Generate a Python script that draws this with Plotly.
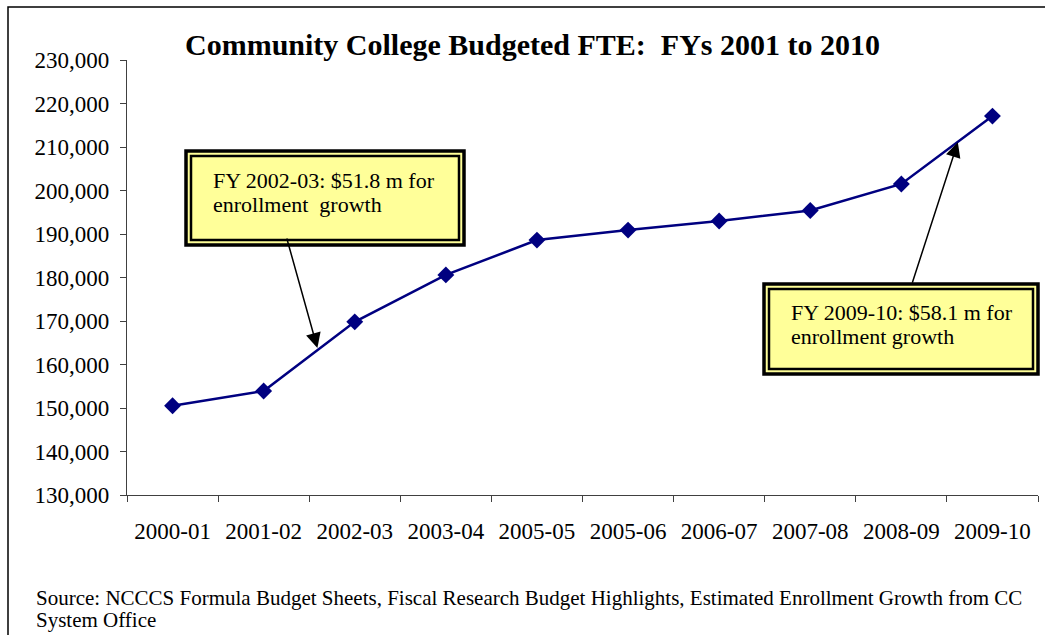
import plotly.graph_objects as go

# Budgeted FTE by fiscal year
fiscal_years = ["2000-01", "2001-02", "2002-03", "2003-04", "2005-05",
                "2005-06", "2006-07", "2007-08", "2008-09", "2009-10"]
fte = [150500, 153900, 169800, 180600, 188600,
       190900, 193000, 195400, 201500, 217100]

y_ticks = [130000, 140000, 150000, 160000, 170000, 180000,
           190000, 200000, 210000, 220000, 230000]

title_text = "Community College Budgeted FTE:  FYs 2001 to 2010"
note_1 = ["FY 2002-03: $51.8 m for", "enrollment  growth"]
note_2 = ["FY 2009-10: $58.1 m for", "enrollment growth"]
source_lines = ["Source: NCCCS Formula Budget Sheets, Fiscal Research Budget Highlights, "
                "Estimated Enrollment Growth from CC",
                "System Office"]

W, H = 1045, 635
ML, MR, MT, MB = 127, 7, 60, 140
PW, PH = W - ML - MR, H - MT - MB

SERIF = "Liberation Serif, Times New Roman, serif"


def px(x):
    return (x - ML) / PW


def py(y):
    return (H - MB - y) / PH


fig = go.Figure()
fig.add_trace(go.Scatter(
    x=fiscal_years, y=fte, mode="lines+markers",
    line=dict(color="#000080", width=2.5),
    marker=dict(symbol="diamond", size=13, color="#000080"),
    cliponaxis=False, showlegend=False,
))

shapes = []
# outer chart frame
shapes.append(dict(type="rect", xref="paper", yref="paper",
                   x0=px(8), x1=px(1080), y0=py(7), y1=py(700),
                   line=dict(color="black", width=1.5), layer="below"))


def callout_box(x0, y0, x1, y1):
    return [
        dict(type="rect", xref="paper", yref="paper",
             x0=px(x0), x1=px(x1), y0=py(y0), y1=py(y1),
             fillcolor="#FFFF99", line=dict(color="black", width=3.5)),
        dict(type="rect", xref="paper", yref="paper",
             x0=px(x0 + 5), x1=px(x1 - 5), y0=py(y0 + 5), y1=py(y1 - 5),
             fillcolor="rgba(0,0,0,0)", line=dict(color="black", width=2.5)),
    ]


shapes += callout_box(186, 151, 464, 245)
shapes += callout_box(764, 284, 1038, 374)


def text_line(text, x, y, size):
    return dict(text=text, xref="paper", yref="paper", x=px(x), y=py(y),
                xanchor="left", yanchor="middle", align="left", showarrow=False,
                font=dict(family=SERIF, size=size, color="black"))


annotations = [
    text_line(note_1[0], 211, 180, 22),
    text_line(note_1[1], 211, 204, 22),
    text_line(note_2[0], 789, 312, 22),
    text_line(note_2[1], 789, 336, 22),
    # arrows pointing at the funded growth years
    dict(x=1.59, y=163800, xref="x", yref="y", ax=-31, ay=-111, text="",
         showarrow=True, arrowhead=2, arrowsize=2, arrowwidth=1.5,
         arrowcolor="black"),
    dict(x=8.62, y=211100, xref="x", yref="y", ax=-46, ay=142, text="",
         showarrow=True, arrowhead=2, arrowsize=2, arrowwidth=1.5,
         arrowcolor="black"),
    text_line(source_lines[0], 34, 598, 21),
    text_line(source_lines[1], 34, 620, 21),
    dict(text="<b>" + title_text + "</b>", xref="paper", yref="paper",
         x=px(532), y=py(44), xanchor="center", yanchor="middle",
         showarrow=False, font=dict(family=SERIF, size=30, color="black")),
]

fig.update_layout(
    width=W, height=H,
    margin=dict(l=ML, r=MR, t=MT, b=MB, autoexpand=False),
    paper_bgcolor="white", plot_bgcolor="white",
    font=dict(family=SERIF, color="black"),
    shapes=shapes, annotations=annotations,
    xaxis=dict(
        type="category", range=[-0.5, 9.5], showgrid=False,
        showline=True, linecolor="#404040", linewidth=1.2,
        ticks="outside", ticklen=6, tickcolor="#404040", tickson="boundaries",
        ticklabelstandoff=15, tickfont=dict(family=SERIF, size=23),
    ),
    yaxis=dict(
        range=[130000, 230000], tickvals=y_ticks, tickformat=",d",
        showgrid=False, zeroline=False,
        showline=True, linecolor="#404040", linewidth=1.2,
        ticks="outside", ticklen=6, tickcolor="#404040",
        ticklabelstandoff=6, tickfont=dict(family=SERIF, size=23),
    ),
)

fig.write_html("out.html")
